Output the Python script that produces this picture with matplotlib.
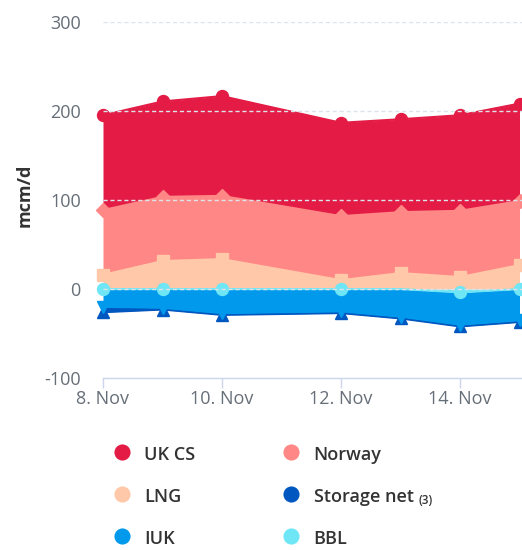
import numpy as np
import matplotlib
matplotlib.use("Agg")
import matplotlib.pyplot as plt

plt.rcParams['font.family'] = ['Open Sans', 'DejaVu Sans']
plt.rcParams['axes.unicode_minus'] = False

# data (mcm/d), Nov 11 has no data
days = [8, 9, 10, 12, 13, 14, 15]
tick_days = [8, 10, 12, 14]
tick_labels = ["8. Nov", "10. Nov", "12. Nov", "14. Nov"]
y_ticks = [-100, 0, 100, 200, 300]

uk_cs = [106.7, 107.3, 112.2, 105.0, 104.5, 107.5, 109.6]
norway = [72.8, 72.2, 71.1, 72.0, 68.5, 74.5, 72.0]
lng = [16.0, 31.5, 33.7, 10.0, 18.0, 13.5, 27.0]
storage_net = [-6.0, -2.0, -2.0, -2.0, -2.0, -2.0, -2.0]
iuk = [-20.0, -21.0, -27.0, -25.0, -31.0, -36.3, -35.0]
bbl = [0.0, 0.0, 0.0, 0.0, np.nan, -3.7, 0.0]

names = ["UK CS", "Norway", "LNG", "Storage net", "IUK", "BBL"]
colors = ["#e31b45", "#ff8785", "#ffc8a8", "#0057c0", "#0099ec", "#6ee6f5"]
markers = ["o", "D", "s", "^", "v", "o"]
msizes = [8.6, 7.5, 8.0, 8.6, 8.6, 8.6]

series = [uk_cs, norway, lng, storage_net, iuk, bbl]

fig = plt.figure(figsize=(5.22, 5.5), dpi=100)
W, H = 522, 550
ax = fig.add_axes([103 / W, (H - 378) / H, 419 / W, 355.7 / H])

x = np.array(days, dtype=float)

# stacking: last series sits next to zero, first on the outside
pos_base = np.zeros(len(days))
neg_base = np.zeros(len(days))
stacked = {}
for i in range(len(series) - 1, -1, -1):
    v = np.nan_to_num(np.array(series[i], dtype=float))
    if np.all(v >= 0):
        lo = pos_base.copy()
        hi = pos_base + v
        pos_base = hi
    else:
        lo = neg_base.copy()
        hi = neg_base + v
        neg_base = hi
    stacked[i] = (lo, hi)

for i in range(len(series)):
    lo, hi = stacked[i]
    z = 1 + i * 0.1
    ax.fill_between(x, lo, hi, color=colors[i], lw=0, zorder=z)
    ax.plot(x, hi, color=colors[i], lw=1.5, zorder=z + 0.05)

for i in range(len(series)):
    lo, hi = stacked[i]
    raw = np.array(series[i], dtype=float)
    ok = ~np.isnan(raw)
    ax.plot(x[ok], hi[ok], ls="none", marker=markers[i], ms=msizes[i],
            color=colors[i], mec=colors[i], clip_on=False, zorder=4 + i * 0.1)

ax.set_xlim(8, 8 + 419 / 59.5)
ax.set_ylim(-100, 300)

# dashed grid drawn above the areas
for t in y_ticks[1:]:
    ax.axhline(t, color="#dde3ea", lw=1, dashes=(3, 2), zorder=10)

ax.set_xticks(tick_days)
ax.set_xticklabels(tick_labels)
ax.set_yticks(y_ticks)
for s in ["top", "right", "left"]:
    ax.spines[s].set_visible(False)
ax.spines["bottom"].set_color("#ccd6eb")
ax.spines["bottom"].set_linewidth(1)
ax.tick_params(axis="x", length=7.2, width=1, color="#ccd6eb",
               labelsize=13, labelcolor="#666e78", pad=1.5)
ax.tick_params(axis="y", length=0, labelsize=13, labelcolor="#666e78", pad=16)
ax.patch.set_alpha(0)

fig.text(25 / W, 1 - 195 / H, "mcm/d", rotation=90, ha="center", va="center",
         fontsize=13, fontweight="bold", color="#333333")

# legend, two columns
lax = fig.add_axes([0, 0, 1, 1])
lax.set_xlim(0, W)
lax.set_ylim(H, 0)
lax.axis("off")
col_x = [121.5, 291]
row_y = [452, 493.5, 535.5]
fig.canvas.draw()
for k, name in enumerate(names):
    cx = col_x[k % 2]
    cy = row_y[k // 2]
    lax.scatter([cx], [cy], s=135, color=colors[k], lw=0)
    t = lax.text(cx + 22.5, cy + 8, name, fontsize=13, fontweight=600,
                 color="#333333", va="baseline", ha="left")
    if name == "Storage net":
        fig.canvas.draw()
        bb = t.get_window_extent()
        fig.text((bb.x1 + 5) / W, (H - (cy + 11)) / H, "(3)", fontsize=8.5,
                 fontweight=600, color="#333333", va="baseline", ha="left")

fig.savefig("out.png", dpi=100)
